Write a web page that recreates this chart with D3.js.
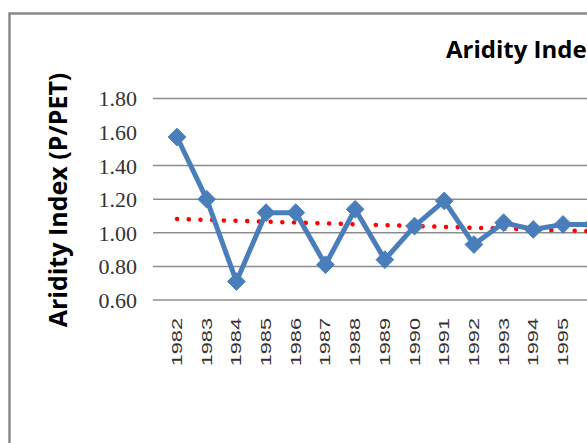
<!DOCTYPE html>
<html>
<head>
<meta charset="utf-8">
<script src="https://cdn.jsdelivr.net/npm/d3@7.9.0/dist/d3.min.js"></script>
<style>
  html, body { margin: 0; padding: 0; background: #fff; }
  svg { display: block; }
</style>
</head>
<body>
<svg id="chart" width="587" height="443"></svg>
<script>
// values (chart is cut off on the right after 1995)
const years = [1982, 1983, 1984, 1985, 1986, 1987, 1988, 1989, 1990, 1991, 1992, 1993, 1994, 1995, 1996];
const aridity = [1.57, 1.20, 0.71, 1.12, 1.12, 0.81, 1.14, 0.84, 1.04, 1.19, 0.93, 1.06, 1.02, 1.05, 1.05];
const yearLabels = [1982, 1983, 1984, 1985, 1986, 1987, 1988, 1989, 1990, 1991, 1992, 1993, 1994, 1995];
const trendYears = [1982, 1996];
const trendValues = [1.082, 1.009];
const yTicks = [0.6, 0.8, 1.0, 1.2, 1.4, 1.6, 1.8];
const gridTicks = [0.6, 0.8, 1.0, 1.2, 1.4, 1.8];

const svg = d3.select('#chart');

const x = d3.scaleLinear().domain([1982, 1995]).range([177, 563]);
const y = d3.scaleLinear().domain([0.6, 1.8]).range([300, 98.4]);

// outer chart frame (only top and left edges are in view)
svg.append('path')
  .attr('d', 'M9.5,443 V13.5 H600')
  .attr('fill', 'none')
  .attr('stroke', '#8a8a8a')
  .attr('stroke-width', 2.5);

// gridlines
svg.append('g')
  .selectAll('line')
  .data(gridTicks)
  .join('line')
  .attr('x1', 153)
  .attr('x2', 600)
  .attr('y1', d => y(d))
  .attr('y2', d => y(d))
  .attr('stroke', '#8c8c8c')
  .attr('stroke-width', 1.5);

// y tick labels
const yAxis = d3.axisLeft(y).tickValues(yTicks).tickFormat(d3.format('.2f')).tickSize(0).tickPadding(0);
const yg = svg.append('g').attr('transform', 'translate(137,0)').call(yAxis);
yg.select('.domain').remove();
yg.selectAll('text')
  .attr('font-family', '"Liberation Serif", serif')
  .attr('font-size', 22)
  .attr('fill', '#333')
  .attr('dy', '0.34em');

// x tick labels (rotated)
svg.append('g')
  .selectAll('text')
  .data(yearLabels)
  .join('text')
  .attr('transform', d => `translate(${x(d) + 5},318) rotate(-90) scale(1.45,1)`)
  .attr('text-anchor', 'end')
  .attr('font-family', '"Liberation Sans", Arial, sans-serif')
  .attr('font-size', 15)
  .attr('fill', '#333')
  .text(d => d);

// trend line
const trendLine = d3.line().x(d => x(d[0])).y(d => y(d[1]));
svg.append('path')
  .attr('d', trendLine(d3.zip(trendYears, trendValues)))
  .attr('fill', 'none')
  .attr('stroke', '#ff0000')
  .attr('stroke-width', 4.5)
  .attr('stroke-linecap', 'round')
  .attr('stroke-dasharray', '0.1 11.6');

// series
const pts = d3.zip(years, aridity);
const line = d3.line().x(d => x(d[0])).y(d => y(d[1]));
svg.append('path')
  .attr('d', line(pts))
  .attr('fill', 'none')
  .attr('stroke', '#4a7ebb')
  .attr('stroke-width', 5)
  .attr('stroke-linejoin', 'round');

svg.append('g')
  .selectAll('path')
  .data(pts)
  .join('path')
  .attr('d', d3.symbol(d3.symbolDiamond2, 200))
  .attr('transform', d => `translate(${x(d[0])},${y(d[1])})`)
  .attr('fill', '#4a7ebb')
  .attr('stroke', '#4a7ebb')
  .attr('stroke-width', 1);

// axis title
svg.append('text')
  .attr('transform', 'translate(67,200) rotate(-90)')
  .attr('text-anchor', 'middle')
  .attr('font-family', '"Open Sans", sans-serif')
  .attr('font-weight', 'bold')
  .attr('font-size', 25)
  .attr('fill', '#000')
  .text('Aridity Index (P/PET)');

// chart title (cut off at the right edge in the original)
svg.append('text')
  .attr('x', 446)
  .attr('y', 58)
  .attr('font-family', '"Open Sans", sans-serif')
  .attr('font-weight', 'bold')
  .attr('font-size', 24)
  .attr('fill', '#000')
  .text('Aridity Index');
</script>
</body>
</html>
